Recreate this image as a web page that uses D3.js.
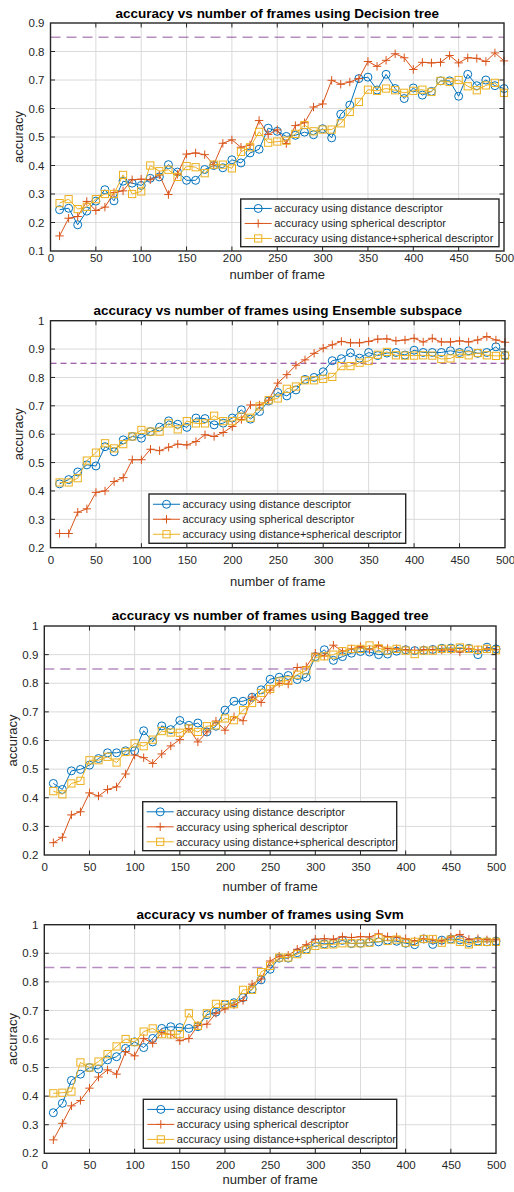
<!DOCTYPE html>
<html>
<head>
<meta charset="utf-8">
<script src="https://cdn.jsdelivr.net/npm/d3@7"></script>
<style>
  html, body { margin: 0; padding: 0; background: #fff; }
  svg { display: block; font-family: "Liberation Sans", Arial, Helvetica, sans-serif; }
</style>
</head>
<body>
<svg id="fig" width="514" height="1192"></svg>
<script>
// ---- data ----
const frames = [10,20,30,40,50,60,70,80,90,100,110,120,130,140,150,160,170,180,190,200,
                210,220,230,240,250,260,270,280,290,300,310,320,330,340,350,360,370,380,390,400,
                410,420,430,440,450,460,470,480,490,500];

const xTicks = [0,50,100,150,200,250,300,350,400,450,500];
const yTicksDecision = [0.1,0.2,0.3,0.4,0.5,0.6,0.7,0.8,0.9];
const yTicksOther = [0.2,0.3,0.4,0.5,0.6,0.7,0.8,0.9,1];
const threshold = 0.85;

const seriesNames = [
  "accuracy using distance descriptor",
  "accuracy using spherical descriptor",
  "accuracy using distance+spherical descriptor"
];

// Decision tree
const dtDistance = [0.245,0.25,0.192,0.24,0.275,0.315,0.276,0.345,0.338,0.33,0.355,0.36,0.403,0.377,0.348,0.348,0.386,0.40,0.392,0.42,
                    0.409,0.444,0.457,0.531,0.52,0.502,0.506,0.517,0.508,0.529,0.497,0.58,0.612,0.705,0.71,0.665,0.72,0.67,0.635,0.672,
                    0.647,0.66,0.697,0.697,0.643,0.72,0.68,0.70,0.68,0.67];
const dtSpherical = [0.153,0.215,0.221,0.274,0.242,0.254,0.305,0.311,0.35,0.352,0.35,0.367,0.298,0.369,0.44,0.444,0.438,0.403,0.478,0.49,
                     0.464,0.472,0.558,0.509,0.525,0.477,0.54,0.55,0.605,0.616,0.699,0.685,0.693,0.705,0.765,0.748,0.769,0.792,0.778,0.737,
                     0.762,0.76,0.762,0.786,0.76,0.778,0.776,0.765,0.795,0.767];
const dtCombined = [0.268,0.282,0.247,0.255,0.282,0.30,0.30,0.367,0.30,0.309,0.40,0.38,0.385,0.36,0.398,0.394,0.373,0.403,0.403,0.39,
                    0.448,0.464,0.518,0.48,0.484,0.487,0.511,0.542,0.52,0.526,0.526,0.548,0.588,0.623,0.666,0.662,0.67,0.664,0.655,0.662,
                    0.666,0.658,0.697,0.693,0.70,0.678,0.664,0.681,0.69,0.655];

// Ensemble subspace
const esDistance = [0.425,0.44,0.467,0.492,0.488,0.556,0.538,0.58,0.592,0.586,0.609,0.625,0.647,0.635,0.624,0.657,0.655,0.633,0.639,0.657,
                    0.686,0.653,0.68,0.717,0.747,0.735,0.756,0.793,0.80,0.82,0.859,0.866,0.887,0.868,0.888,0.877,0.886,0.888,0.879,0.896,
                    0.888,0.888,0.888,0.894,0.888,0.894,0.885,0.888,0.908,0.878];
const esSpherical = [0.25,0.25,0.325,0.337,0.395,0.40,0.433,0.447,0.51,0.51,0.547,0.542,0.554,0.565,0.562,0.574,0.598,0.592,0.606,0.627,
                     0.652,0.703,0.703,0.72,0.78,0.81,0.843,0.862,0.885,0.903,0.915,0.927,0.922,0.922,0.927,0.935,0.936,0.929,0.932,0.938,
                     0.925,0.938,0.925,0.925,0.929,0.925,0.932,0.944,0.932,0.924];
const esCombined = [0.43,0.43,0.445,0.507,0.535,0.568,0.55,0.565,0.592,0.615,0.609,0.609,0.638,0.617,0.646,0.638,0.638,0.665,0.646,0.646,
                    0.662,0.658,0.698,0.72,0.726,0.76,0.768,0.79,0.79,0.795,0.802,0.84,0.84,0.852,0.858,0.88,0.89,0.878,0.877,0.877,
                    0.878,0.877,0.865,0.867,0.883,0.878,0.886,0.878,0.876,0.877];

// Bagged tree
const btDistance = [0.45,0.429,0.494,0.499,0.514,0.537,0.557,0.557,0.564,0.564,0.634,0.595,0.651,0.638,0.67,0.653,0.661,0.63,0.65,0.706,
                    0.737,0.737,0.751,0.777,0.814,0.821,0.827,0.813,0.821,0.893,0.917,0.88,0.893,0.905,0.911,0.909,0.90,0.902,0.912,0.917,
                    0.914,0.915,0.918,0.922,0.923,0.921,0.922,0.90,0.926,0.92];
const btSpherical = [0.243,0.262,0.34,0.351,0.417,0.406,0.429,0.438,0.483,0.549,0.54,0.52,0.553,0.581,0.603,0.642,0.595,0.63,0.668,0.636,
                     0.683,0.669,0.752,0.733,0.776,0.80,0.797,0.855,0.858,0.905,0.895,0.933,0.912,0.92,0.928,0.917,0.932,0.921,0.92,0.917,
                     0.915,0.917,0.917,0.916,0.917,0.909,0.921,0.917,0.92,0.917];
const btCombined = [0.423,0.412,0.45,0.459,0.531,0.531,0.543,0.523,0.56,0.59,0.58,0.603,0.633,0.628,0.627,0.642,0.63,0.65,0.653,0.677,
                    0.671,0.706,0.731,0.766,0.78,0.806,0.81,0.83,0.845,0.89,0.894,0.90,0.912,0.92,0.92,0.932,0.922,0.914,0.92,0.914,
                    0.902,0.914,0.914,0.92,0.92,0.925,0.92,0.917,0.92,0.915];

// Svm
const svmDistance = [0.342,0.375,0.455,0.477,0.50,0.495,0.527,0.538,0.567,0.59,0.57,0.602,0.637,0.643,0.64,0.637,0.643,0.685,0.694,0.72,
                     0.727,0.745,0.774,0.807,0.844,0.883,0.883,0.902,0.914,0.937,0.933,0.935,0.945,0.934,0.935,0.938,0.94,0.946,0.942,0.935,
                     0.93,0.95,0.931,0.946,0.95,0.947,0.937,0.943,0.94,0.942];
const svmSpherical = [0.247,0.305,0.366,0.385,0.428,0.467,0.492,0.477,0.556,0.541,0.602,0.585,0.622,0.616,0.594,0.602,0.647,0.652,0.69,0.705,
                      0.72,0.735,0.792,0.81,0.873,0.89,0.893,0.914,0.93,0.949,0.951,0.949,0.958,0.955,0.958,0.957,0.968,0.958,0.957,0.951,
                      0.943,0.951,0.947,0.943,0.957,0.966,0.949,0.951,0.947,0.947];
const svmCombined = [0.41,0.412,0.416,0.518,0.50,0.521,0.547,0.574,0.60,0.589,0.626,0.637,0.617,0.616,0.617,0.69,0.646,0.69,0.723,0.722,
                     0.722,0.772,0.772,0.834,0.856,0.885,0.885,0.897,0.912,0.926,0.93,0.931,0.935,0.935,0.935,0.937,0.953,0.943,0.948,0.937,
                     0.94,0.95,0.95,0.937,0.948,0.94,0.931,0.94,0.94,0.94];

// ---- layout & style ----
const colors = ["#0072BD", "#D95319", "#EDB120"];
const markers = ["circle", "plus", "square"];
const ink = "#262626";

const panels = [
  { title: "accuracy vs number of frames using Decision tree",
    series: [dtDistance, dtSpherical, dtCombined], yTicks: yTicksDecision, yDomain: [0.1, 0.9],
    l: 50.5, r: 504, t: 23, b: 251, titleY: 13, xTickPad: 3, xLabelY: 274, yLabelX: 18,
    legend: { x: 240.7, y: 199, w: 258.3, h: 47.7 },
    dash: { color: "#7E2F8E", opacity: 0.55, width: 1.6, array: "10,6" } },
  { title: "accuracy vs number of frames using Ensemble subspace",
    series: [esDistance, esSpherical, esCombined], yTicks: yTicksOther, yDomain: [0.2, 1],
    l: 50.5, r: 505, t: 320.7, b: 547.7, titleY: 310, xTickPad: 8, xLabelY: 581, yLabelX: 18,
    legend: { x: 149, y: 494, w: 256.7, h: 49.3 },
    dash: { color: "#7E2F8E", opacity: 1, width: 1, array: "6,4" } },
  { title: "accuracy vs number of frames using Bagged tree",
    series: [btDistance, btSpherical, btCombined], yTicks: yTicksOther, yDomain: [0.2, 1],
    l: 44.3, r: 496, t: 626, b: 855, titleY: 615, xTickPad: 8, xLabelY: 886, yLabelX: 12,
    legend: { x: 142.7, y: 801.7, w: 254, h: 49 },
    dash: { color: "#7E2F8E", opacity: 0.55, width: 1.6, array: "10,6" } },
  { title: "accuracy vs number of frames using Svm",
    series: [svmDistance, svmSpherical, svmCombined], yTicks: yTicksOther, yDomain: [0.2, 1],
    l: 44.3, r: 496, t: 924.7, b: 1153.3, titleY: 914, xTickPad: 8, xLabelY: 1179, yLabelX: 12,
    legend: { x: 143.3, y: 1099.3, w: 253.4, h: 49 },
    dash: { color: "#7E2F8E", opacity: 0.55, width: 1.6, array: "10,6" } }
];

const svg = d3.select("#fig");

function drawMarker(g, type, cx, cy, color) {
  if (type === "circle") {
    g.append("circle").attr("cx", cx).attr("cy", cy).attr("r", 4)
      .attr("fill", "none").attr("stroke", color).attr("stroke-width", 1);
  } else if (type === "square") {
    g.append("rect").attr("x", cx - 3.6).attr("y", cy - 3.6).attr("width", 7.2).attr("height", 7.2)
      .attr("fill", "none").attr("stroke", color).attr("stroke-width", 1);
  } else {
    g.append("path").attr("d", `M${cx - 4.2},${cy}H${cx + 4.2}M${cx},${cy - 4.2}V${cy + 4.2}`)
      .attr("fill", "none").attr("stroke", color).attr("stroke-width", 1);
  }
}

panels.forEach(p => {
  const g = svg.append("g");
  const x = d3.scaleLinear().domain([0, 500]).range([p.l, p.r]);
  const y = d3.scaleLinear().domain(p.yDomain).range([p.b, p.t]);

  // grid
  g.append("g").selectAll("line").data(xTicks.slice(1, -1)).join("line")
    .attr("x1", d => x(d)).attr("x2", d => x(d)).attr("y1", p.t).attr("y2", p.b)
    .attr("stroke", "#dadada").attr("stroke-width", 1);
  g.append("g").selectAll("line").data(p.yTicks.slice(1, -1)).join("line")
    .attr("y1", d => y(d)).attr("y2", d => y(d)).attr("x1", p.l).attr("x2", p.r)
    .attr("stroke", "#dadada").attr("stroke-width", 1);

  // threshold line
  g.append("line").attr("x1", p.l).attr("x2", p.r).attr("y1", y(threshold)).attr("y2", y(threshold))
    .attr("stroke", p.dash.color).attr("stroke-opacity", p.dash.opacity)
    .attr("stroke-width", p.dash.width).attr("stroke-dasharray", p.dash.array);

  // series: distance, spherical, combined
  const line = d3.line().x((d, i) => x(frames[i])).y(d => y(d));
  p.series.forEach((vals, k) => {
    const sg = g.append("g");
    sg.append("path").datum(vals).attr("d", line)
      .attr("fill", "none").attr("stroke", colors[k]).attr("stroke-width", 1);
    vals.forEach((v, i) => drawMarker(sg, markers[k], x(frames[i]), y(v), colors[k]));
  });

  // axes with inward ticks on all four sides
  const tl = 4.5;
  const axisX = d3.axisBottom(x).tickValues(xTicks).tickSize(0).tickPadding(p.xTickPad).tickFormat(d3.format("d"));
  const axisY = d3.axisLeft(y).tickValues(p.yTicks).tickSize(0).tickPadding(6).tickFormat(d => String(d));
  const ax = g.append("g").attr("transform", `translate(0,${p.b})`).call(axisX);
  const ay = g.append("g").attr("transform", `translate(${p.l},0)`).call(axisY);
  [ax, ay].forEach(a => {
    a.select(".domain").remove();
    a.selectAll("text").attr("fill", ink).style("font-size", "11.5px")
      .style("font-family", '"Liberation Sans", Arial, sans-serif');
  });
  const tk = g.append("g").attr("stroke", ink).attr("stroke-width", 1);
  xTicks.slice(1, -1).forEach(d => {
    tk.append("line").attr("x1", x(d)).attr("x2", x(d)).attr("y1", p.b).attr("y2", p.b - tl);
    tk.append("line").attr("x1", x(d)).attr("x2", x(d)).attr("y1", p.t).attr("y2", p.t + tl);
  });
  p.yTicks.slice(1, -1).forEach(d => {
    tk.append("line").attr("y1", y(d)).attr("y2", y(d)).attr("x1", p.l).attr("x2", p.l + tl);
    tk.append("line").attr("y1", y(d)).attr("y2", y(d)).attr("x1", p.r).attr("x2", p.r - tl);
  });
  g.append("rect").attr("x", p.l).attr("y", p.t).attr("width", p.r - p.l).attr("height", p.b - p.t)
    .attr("fill", "none").attr("stroke", ink).attr("stroke-width", 1.4);

  // title and axis labels
  g.append("text").attr("x", (p.l + p.r) / 2).attr("y", p.titleY).attr("dy", "0.35em")
    .attr("text-anchor", "middle").attr("fill", "#000").style("font-weight", "bold")
    .style("font-size", "13.5px").text(p.title);
  g.append("text").attr("x", (p.l + p.r) / 2).attr("y", p.xLabelY).attr("dy", "0.35em")
    .attr("text-anchor", "middle").attr("fill", ink).style("font-size", "13px").text("number of frame");
  g.append("text").attr("transform", `translate(${p.yLabelX},${(p.t + p.b) / 2}) rotate(-90)`)
    .attr("dy", "0.35em").attr("text-anchor", "middle").attr("fill", ink)
    .style("font-size", "13px").text("accuracy");

  // legend
  const L = p.legend;
  const lg = g.append("g");
  lg.append("rect").attr("x", L.x).attr("y", L.y).attr("width", L.w).attr("height", L.h)
    .attr("fill", "#fff").attr("stroke", ink).attr("stroke-width", 1.4);
  seriesNames.forEach((name, k) => {
    const cy = L.y + L.h / 2 + 0.6 + (k - 1) * 15;
    lg.append("line").attr("x1", L.x + 4).attr("x2", L.x + 31).attr("y1", cy).attr("y2", cy)
      .attr("stroke", colors[k]).attr("stroke-width", 1);
    drawMarker(lg, markers[k], L.x + 17.5, cy, colors[k]);
    lg.append("text").attr("x", L.x + 33.5).attr("y", cy).attr("dy", "0.35em")
      .attr("fill", ink).style("font-size", "11px").text(name);
  });
});
</script>
</body>
</html>
